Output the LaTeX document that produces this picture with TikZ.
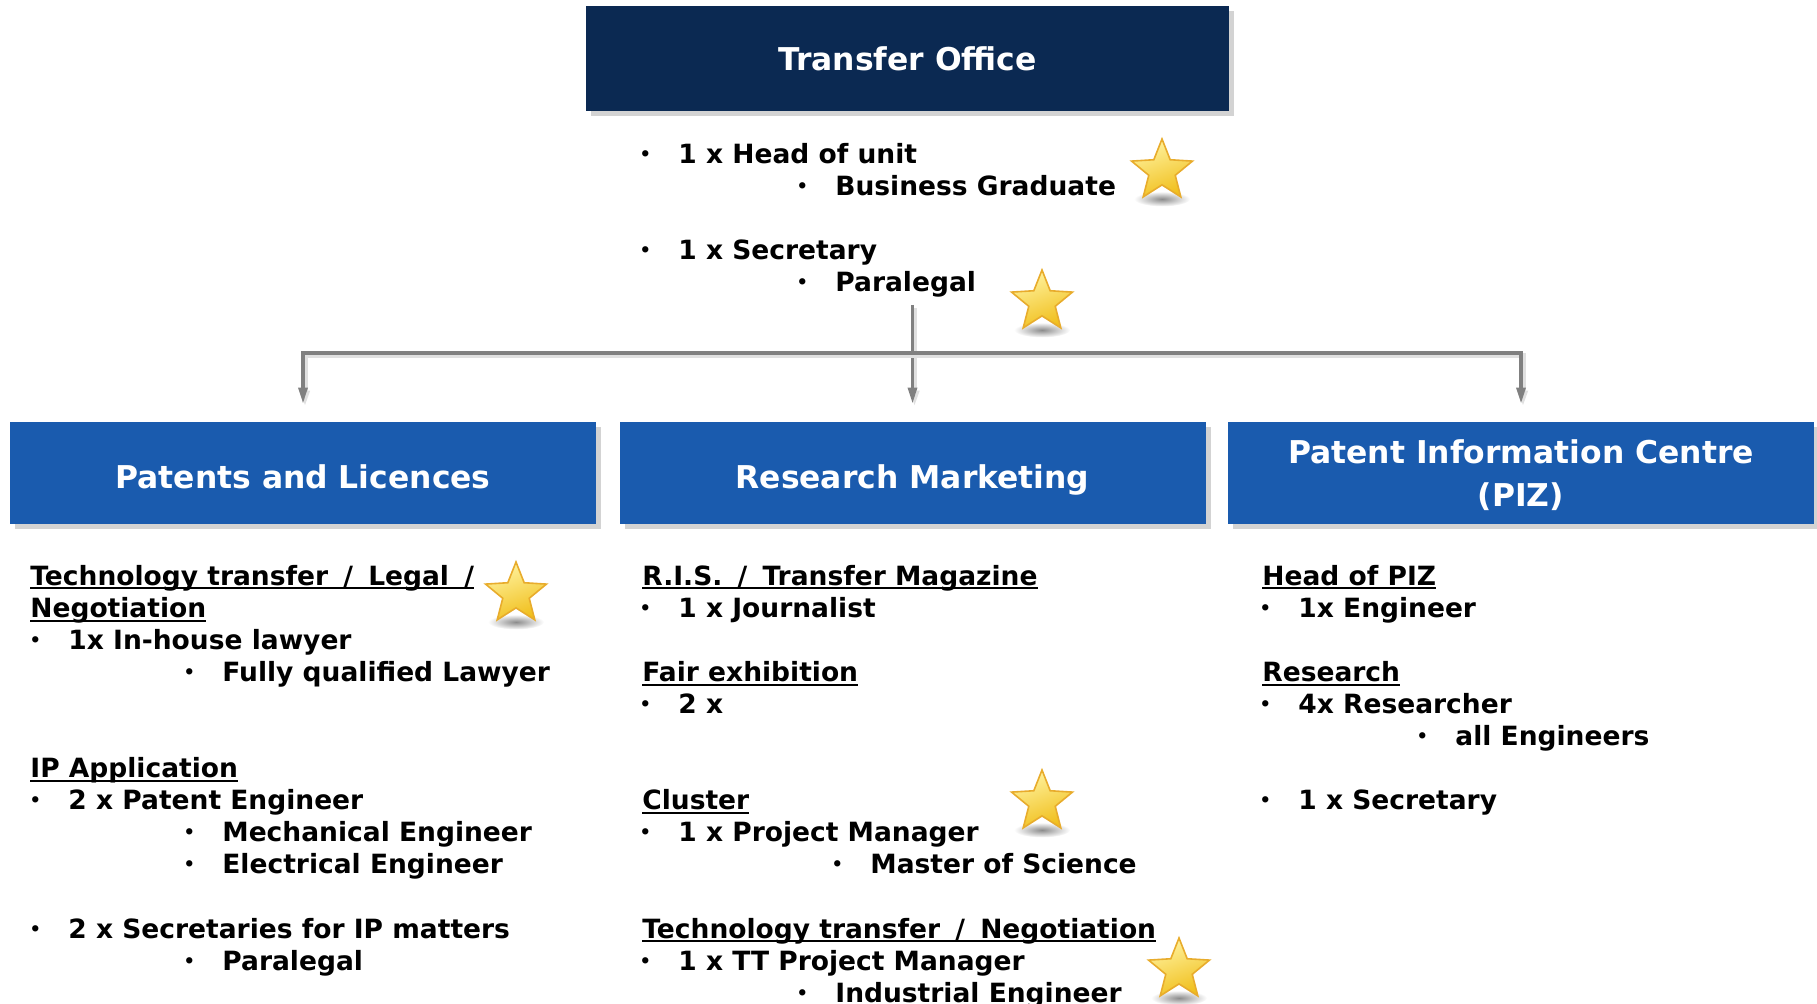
\documentclass[tikz,border=0pt]{standalone}
\usepackage{fontspec}
\setmainfont{DejaVu Sans}
\usetikzlibrary{arrows.meta, shapes.geometric, shadows}

\definecolor{navy}{HTML}{0B2952}
\definecolor{unitblue}{HTML}{1A5BAE}
\definecolor{linkgray}{HTML}{808080}
\definecolor{starhi}{HTML}{FFF3A0}
\definecolor{starlo}{HTML}{F0BE1A}
\definecolor{starrim}{HTML}{E8AC2C}

\newcommand\bodyfont{\fontsize{13.25}{16}\selectfont\bfseries}
\newcommand\headfont{\fontsize{15.7}{21.5}\selectfont\bfseries}
\newcommand\dotmark{\makebox[0pt]{\raisebox{1.5pt}{\fontsize{9}{9}\selectfont\textbullet}}\hspace{16.5pt}}
\newcommand\hdline[1]{\setbox0\hbox{#1}\rlap{\rule[-2pt]{\wd0}{1pt}}\box0}
\newcommand\slsep{\ \hspace{3pt}/\ \hspace{3pt}}

\begin{document}
\begin{tikzpicture}[x=0.5pt, y=-0.5pt,
    topbox/.style={rectangle, fill=navy, text=white, font=\headfont, minimum width=321.5pt, minimum height=52.5pt, inner sep=0pt, drop shadow={shadow xshift=2.5pt, shadow yshift=-2.5pt, opacity=0.35}},
    unitbox/.style={rectangle, fill=unitblue, text=white, font=\headfont, align=center, minimum width=293pt, minimum height=51pt, inner sep=0pt, drop shadow={shadow xshift=2.5pt, shadow yshift=-2.5pt, opacity=0.35}},
    entry/.style={anchor=base west, inner sep=0pt, font=\bodyfont},
    prize/.style={star, star points=5, star point ratio=2.3, minimum size=32pt, inner sep=0pt, draw=starrim, line width=0.8pt, top color=starhi, bottom color=starlo, shading angle=20},
    glow/.style={inner color=black!45, outer color=white},
    link/.style={draw=linkgray, line width=1.6pt, >={Triangle[length=8pt, width=4.5pt]}, preaction={draw=black!12, line width=2.5pt, transform canvas={shift={(1pt,-1.5pt)}}}}]
    \useasboundingbox (0,0) rectangle (1817,1004);

    % boxes
    \node[topbox] (office) at (907.5, 58.5) {Transfer Office};
    \node[unitbox, text height=15.4pt, text depth=0pt] (pl) at (303, 473) {Patents and Licences};
    \node[unitbox, text height=15.4pt, text depth=0pt] (rm) at (912.5, 473) {Research Marketing};
    \node[unitbox] (piz) at (1521, 473) {\rule{0pt}{14.5pt}Patent Information Centre\\(PIZ)};

    % connectors
    \coordinate (stem) at (912.5, 305);
    \coordinate (bus) at (912.5, 353);
    \draw[link, ->] (stem) -- ([yshift=9pt]rm.north);
    \draw[link, <->] ([yshift=9pt]pl.north) |- (bus) -| ([yshift=9pt]piz.north);

    % stars
    \foreach \sx/\sy [count=\i] in {1162/171, 1042/302, 516/594, 1042/802, 1179/970} {
        \shade[glow] (\sx, \sy+28) ellipse (14pt and 3.75pt);
        \node[prize] (star\i) at (\sx, \sy) {};
    }

    % Transfer Office staff
    \node[entry] (head) at (645, 164) {\dotmark 1 x Head of unit};
    \node[entry] (headq) at (802, 196) {\dotmark Business Graduate};
    \node[entry] (secr) at (645, 260) {\dotmark 1 x Secretary};
    \node[entry] (secrq) at (802, 292) {\dotmark Paralegal};

    % Patents and Licences
    \node[entry] (tt) at (30, 585.5) {\hdline{Technology transfer\slsep Legal\ \hspace{3pt}/}};
    \node[entry] (tt2) at (30, 617.6) {\hdline{Negotiation}};
    \node[entry] (lawyer) at (35, 649.6) {\dotmark 1x In-house lawyer};
    \node[entry] (lawyerq) at (189, 681.7) {\dotmark Fully qualified Lawyer};
    \node[entry] (ip) at (30, 777.9) {\hdline{IP Application}};
    \node[entry] (pateng) at (35, 809.9) {\dotmark 2 x Patent Engineer};
    \node[entry] (mech) at (189, 842.0) {\dotmark Mechanical Engineer};
    \node[entry] (elec) at (189, 874.0) {\dotmark Electrical Engineer};
    \node[entry] (ipsec) at (35, 938.2) {\dotmark 2 x Secretaries for IP matters};
    \node[entry] (ipsecq) at (189, 970.2) {\dotmark Paralegal};

    % Research Marketing
    \node[entry] (ris) at (642, 585.5) {\hdline{R.I.S.\slsep Transfer Magazine}};
    \node[entry] (journ) at (645, 617.6) {\dotmark 1 x Journalist};
    \node[entry] (fair) at (642, 681.7) {\hdline{Fair exhibition}};
    \node[entry] (fairn) at (645, 713.7) {\dotmark 2 x};
    \node[entry] (clus) at (642, 809.9) {\hdline{Cluster}};
    \node[entry] (pm) at (645, 842.0) {\dotmark 1 x Project Manager};
    \node[entry] (pmq) at (837, 874.0) {\dotmark Master of Science};
    \node[entry] (neg) at (642, 938.2) {\hdline{Technology transfer\slsep Negotiation}};
    \node[entry] (ttpm) at (645, 970.2) {\dotmark 1 x TT Project Manager};
    \node[entry] (ttpmq) at (802, 1002.3) {\dotmark Industrial Engineer};

    % Patent Information Centre
    \node[entry] (hpiz) at (1262, 585.5) {\hdline{Head of PIZ}};
    \node[entry] (eng) at (1265, 617.6) {\dotmark 1x Engineer};
    \node[entry] (res) at (1262, 681.7) {\hdline{Research}};
    \node[entry] (resn) at (1265, 713.7) {\dotmark 4x Researcher};
    \node[entry] (resq) at (1422, 745.8) {\dotmark all Engineers};
    \node[entry] (pizsec) at (1265, 809.9) {\dotmark 1 x Secretary};
\end{tikzpicture}
\end{document}
